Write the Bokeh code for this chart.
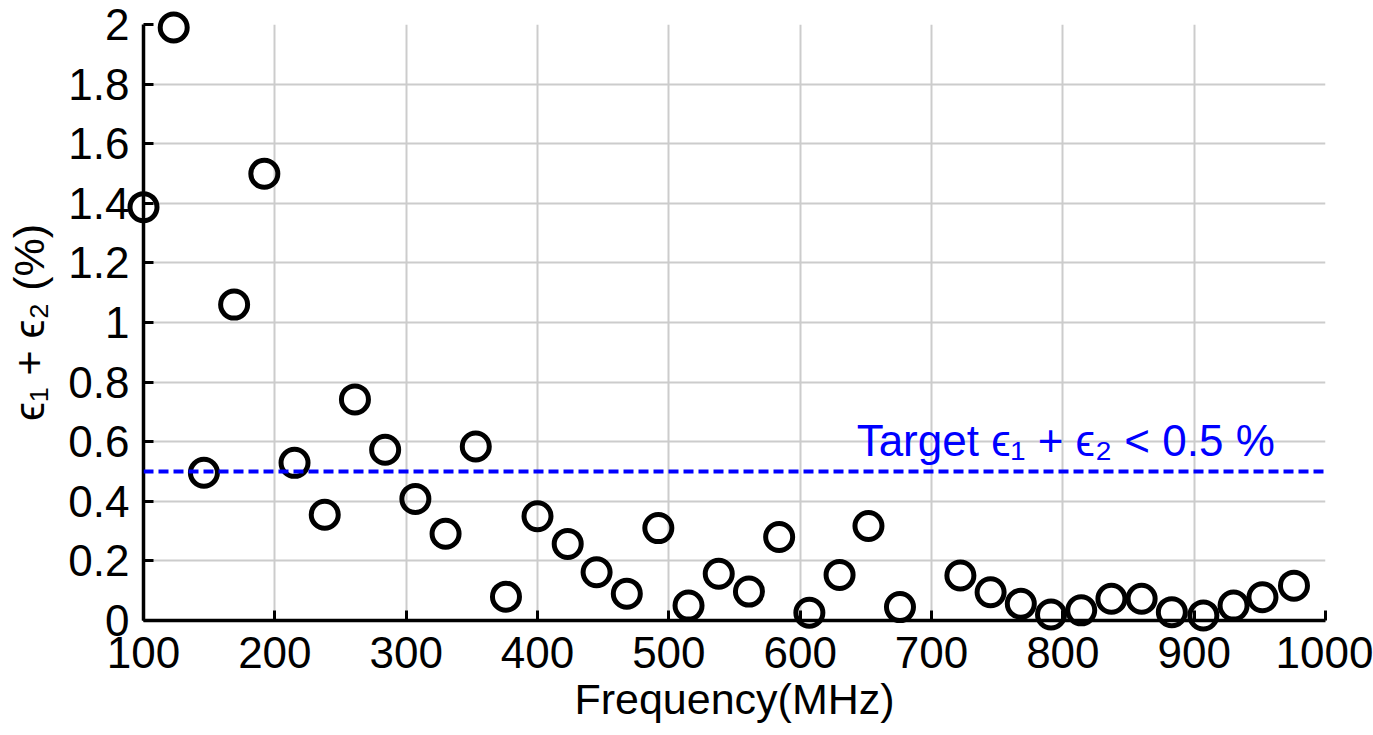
from bokeh.plotting import figure
from bokeh.models import FixedTicker, Span, Label
from bokeh.embed import file_html
from bokeh.resources import INLINE

# Data
freq_mhz = [100, 123, 146, 169, 192, 215, 238, 261, 284, 307, 330, 353, 376,
            400, 423, 445, 468, 492, 515, 538, 561, 584, 607, 630, 652, 676,
            722, 745, 768, 791, 814, 837, 860, 883, 907, 930, 952, 976]
error_pct = [1.387, 1.99, 0.496, 1.06, 1.499, 0.529, 0.355, 0.742, 0.573, 0.408,
             0.291, 0.584, 0.08, 0.35, 0.257, 0.162, 0.09, 0.31, 0.05, 0.157,
             0.097, 0.28, 0.026, 0.153, 0.317, 0.045,
             0.151, 0.095, 0.056, 0.02, 0.034, 0.073, 0.073, 0.028, 0.017,
             0.05, 0.078, 0.117]
target_value = 0.5
target_text = "Target \u03f5\u2081 + \u03f5\u2082 < 0.5 %"

x_ticks = [100, 200, 300, 400, 500, 600, 700, 800, 900, 1000]
x_tick_labels = ["100", "200", "300", "400", "500", "600", "700", "800", "900", "1000"]
y_ticks = [0, 0.2, 0.4, 0.6, 0.8, 1, 1.2, 1.4, 1.6, 1.8, 2]
y_tick_labels = ["0", "0.2", "0.4", "0.6", "0.8", "1", "1.2", "1.4", "1.6", "1.8", "2"]

x_label = "Frequency(MHz)"
y_label = "\u03f5\u2081 + \u03f5\u2082 (%)"

FONT = "Liberation Sans"

p = figure(width=1373, height=735, output_backend="svg", toolbar_location=None,
           x_range=(100, 1000), y_range=(0, 2),
           min_border_left=143, min_border_right=48, min_border_top=24,
           min_border_bottom=115)
p.outline_line_color = None
p.background_fill_color = "white"
p.border_fill_color = "white"

# grid
for g in (p.xgrid, p.ygrid):
    g.grid_line_color = "#cccccc"
    g.grid_line_width = 2
p.xgrid.ticker = FixedTicker(ticks=x_ticks)
p.ygrid.ticker = FixedTicker(ticks=y_ticks)

# axes
p.xaxis.ticker = FixedTicker(ticks=x_ticks)
p.yaxis.ticker = FixedTicker(ticks=y_ticks)
p.xaxis.major_label_overrides = {t: s for t, s in zip(x_ticks, x_tick_labels)}
p.yaxis.major_label_overrides = {t: s for t, s in zip(y_ticks, y_tick_labels)}
for ax in (p.xaxis, p.yaxis):
    ax.axis_line_width = 3.5
    ax.axis_line_color = "black"
    ax.major_tick_in = 10
    ax.major_tick_out = 0
    ax.major_tick_line_width = 3
    ax.major_tick_line_color = "black"
    ax.minor_tick_line_color = None
    ax.major_label_text_font = FONT
    ax.major_label_text_font_size = "44px"
    ax.major_label_text_color = "black"
    ax.axis_label_text_font = FONT
    ax.axis_label_text_font_size = "43px"
    ax.axis_label_text_font_style = "normal"
    ax.axis_label_text_color = "black"
p.xaxis.axis_label = x_label
p.yaxis.axis_label = y_label
p.xaxis.major_label_standoff = 16
p.yaxis.major_label_standoff = 14
p.xaxis.axis_label_standoff = 4
p.yaxis.axis_label_standoff = 12

# markers (not clipped to the frame)
r = p.scatter(freq_mhz, error_pct, marker="circle", size=27, fill_color=None,
              line_color="black", line_width=5)
r.level = "annotation"

# target line
span = Span(location=target_value, dimension="width", line_color="#0000ff",
            line_width=4, line_dash="10 5", level="overlay")
p.add_layout(span)

lbl = Label(x=643, y=0.605, text=target_text, text_color="#0000ff",
            text_font=FONT, text_font_size="44px", text_baseline="alphabetic")
p.add_layout(lbl)

open("out.html", "w").write(file_html(p, INLINE))
